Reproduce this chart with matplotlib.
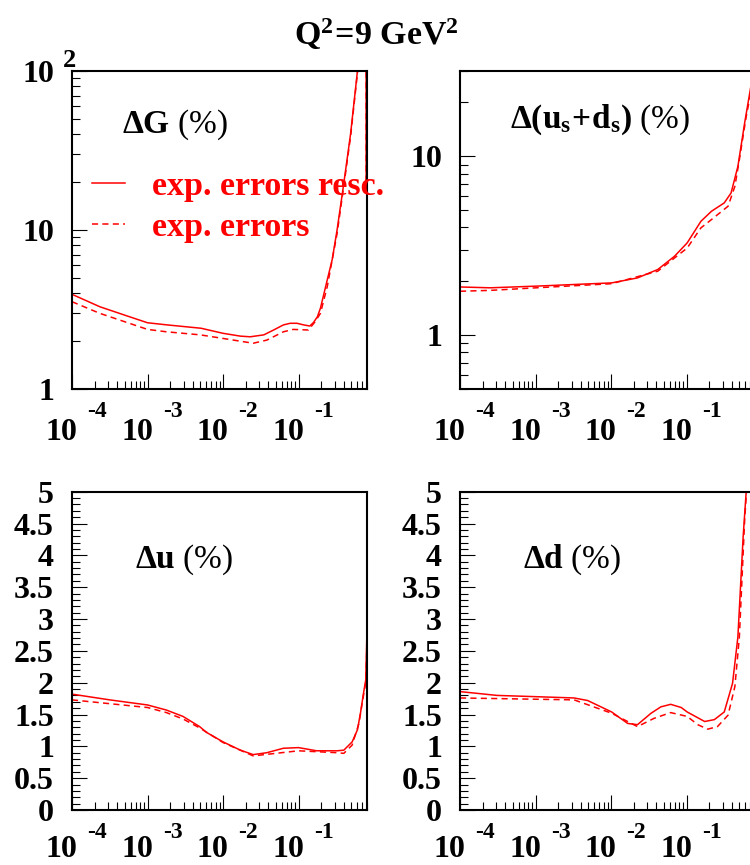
import numpy as np
import matplotlib
matplotlib.use('Agg')
import matplotlib.pyplot as plt
import matplotlib.transforms as mtransforms
from matplotlib.ticker import LogLocator, MultipleLocator, NullFormatter, FixedLocator

plt.rcParams['font.family'] = ['Liberation Serif', 'DejaVu Serif']
plt.rcParams['mathtext.fontset'] = 'custom'
plt.rcParams['mathtext.rm'] = 'Liberation Serif'
plt.rcParams['mathtext.bf'] = 'Liberation Serif:bold'
plt.rcParams['mathtext.it'] = 'Liberation Serif:italic'

# ---------------- data ----------------
title = r'$\mathbf{Q^{2}\!=\!9\ GeV^{2}}$'

# Delta G
g_x_resc = [1.0e-4, 2.34e-4, 5.37e-4, 1.0e-3, 1.82e-3, 5.13e-3, 1.0e-2, 1.70e-2, 2.29e-2,
            3.47e-2, 4.68e-2, 6.31e-2, 7.76e-2, 9.55e-2, 0.117, 0.141, 0.158, 0.178, 0.195,
            0.240, 0.279, 0.324, 0.398, 0.490, 0.603, 0.70, 0.786, 0.787]
g_v_resc = [3.94, 3.29, 2.88, 2.61, 2.53, 2.41, 2.24, 2.15, 2.13,
            2.19, 2.35, 2.53, 2.59, 2.59, 2.53, 2.49, 2.62, 2.85, 3.22,
            4.85, 6.5, 10.0, 19.7, 40.5, 100.0, 250.0, 600.0, 20.0]
g_x_exp = [1.0e-4, 2.34e-4, 1.0e-3, 1.78e-3, 5.01e-3, 1.0e-2, 2.51e-2, 3.80e-2, 6.31e-2,
           8.51e-2, 0.135, 0.166, 0.195, 0.240, 0.324, 0.398, 0.490, 0.603, 0.70, 0.786, 0.787]
g_v_exp = [3.54, 2.99, 2.37, 2.29, 2.19, 2.08, 1.94, 2.03, 2.29,
           2.37, 2.35, 2.65, 2.99, 4.40, 9.5, 19.0, 39.0, 97.0, 250.0, 600.0, 20.0]

# Delta(us+ds)
s_x_resc = [1.0e-4, 2.51e-4, 1.02e-3, 3.24e-3, 1.02e-2, 2.24e-2, 4.17e-2, 6.92e-2, 0.102,
            0.155, 0.214, 0.316, 0.389, 0.479, 0.589, 0.724, 0.80]
s_v_resc = [1.86, 1.84, 1.88, 1.92, 1.96, 2.09, 2.33, 2.76, 3.28,
            4.33, 4.93, 5.49, 6.24, 8.79, 15.4, 25.7, 33.0]
s_x_exp = [1.0e-4, 2.51e-4, 1.02e-3, 1.02e-2, 4.17e-2, 6.92e-2, 0.102, 0.155, 0.214,
           0.355, 0.437, 0.501, 0.617, 0.724, 0.80]
s_v_exp = [1.76, 1.78, 1.84, 1.94, 2.28, 2.70, 3.07, 3.98, 4.43,
           5.26, 6.80, 9.58, 16.7, 23.6, 30.0]

# Delta u
u_x_resc = [1.0e-4, 3.16e-4, 1.0e-3, 1.78e-3, 2.95e-3, 4.90e-3, 6.03e-3, 1.0e-2, 1.70e-2,
            2.51e-2, 3.80e-2, 6.31e-2, 0.1, 0.174, 0.324, 0.398, 0.513, 0.603, 0.661,
            0.724, 0.776, 0.813]
u_v_resc = [1.82, 1.73, 1.65, 1.57, 1.47, 1.31, 1.22, 1.07, 0.94,
            0.87, 0.90, 0.97, 0.98, 0.93, 0.93, 0.94, 1.07, 1.26, 1.52,
            1.83, 2.04, 2.98]
u_x_exp = [1.0e-4, 1.0e-3, 1.78e-3, 2.95e-3, 4.90e-3, 1.0e-2, 2.51e-2, 0.1, 0.324,
           0.398, 0.513, 0.631, 0.697, 0.776, 0.813]
u_v_exp = [1.73, 1.61, 1.53, 1.43, 1.29, 1.06, 0.85, 0.93, 0.90,
           0.89, 1.02, 1.36, 1.68, 2.0, 2.7]

# Delta d
d_x_resc = [1.0e-4, 3.09e-4, 1.02e-3, 3.24e-3, 4.90e-3, 1.02e-2, 1.66e-2, 2.24e-2, 3.39e-2,
            4.57e-2, 6.17e-2, 8.51e-2, 0.102, 0.174, 0.234, 0.316, 0.407, 0.479, 0.562,
            0.617, 0.70]
d_v_resc = [1.86, 1.80, 1.78, 1.76, 1.72, 1.54, 1.36, 1.34, 1.52,
            1.62, 1.66, 1.61, 1.54, 1.39, 1.42, 1.54, 1.99, 2.72, 4.29,
            5.0, 8.0]
d_x_exp = [1.0e-4, 3.24e-3, 1.02e-2, 2.24e-2, 3.72e-2, 6.17e-2, 0.102, 0.141, 0.191,
           0.257, 0.355, 0.437, 0.501, 0.589, 0.646, 0.70]
d_v_exp = [1.76, 1.73, 1.52, 1.31, 1.44, 1.53, 1.47, 1.34, 1.27,
           1.31, 1.49, 1.94, 2.72, 4.56, 5.3, 8.0]

legend_labels = ['exp. errors resc.', 'exp. errors']
xtick_values = [1e-4, 1e-3, 1e-2, 1e-1]
xtick_exps = ['-4', '-3', '-2', '-1']
lin_yticks = [0, 0.5, 1, 1.5, 2, 2.5, 3, 3.5, 4, 4.5, 5]
lin_yticklabels = ['0', '0.5', '1', '1.5', '2', '2.5', '3', '3.5', '4', '4.5', '5']

# ---------------- layout ----------------
W, H = 750, 865
fig = plt.figure(figsize=(W / 100, H / 100), dpi=100)


def ax_at(l, t, r, b):
    return fig.add_axes([l / W, 1 - b / H, (r - l) / W, (b - t) / H])


RED = '#ff0000'
LW = 1.1
DASH = (0, (4, 2.8))
TICKFS = 23


def px(dx, dy):
    return mtransforms.ScaledTranslation(dx / 100, dy / 100, fig.dpi_scale_trans)


def style(ax, base_dy):
    ax.set_xscale('log')
    ax.set_xlim(1e-4, 0.807)
    for s in ax.spines.values():
        s.set_linewidth(1.5)
        s.set_color('black')
    ax.tick_params(which='both', direction='in', top=False, right=False,
                   color='black')
    ax.tick_params(which='major', length=10.5, width=0.8)
    ax.tick_params(which='minor', length=5.5, width=0.8)
    ax.xaxis.set_major_locator(FixedLocator(xtick_values))
    ax.xaxis.set_minor_locator(LogLocator(base=10, subs=np.arange(2, 10), numticks=20))
    ax.xaxis.set_major_formatter(NullFormatter())
    ax.xaxis.set_minor_formatter(NullFormatter())
    ax.tick_params(axis='y', which='major', pad=13, labelsize=TICKFS)
    # ROOT-like x labels "10" with exponent
    for xv, ex in zip(xtick_values, xtick_exps):
        ax.text(xv, 0, '10', transform=ax.get_xaxis_transform() + px(5.5, base_dy),
                ha='right', va='baseline', fontsize=TICKFS, fontweight='bold', clip_on=False)
        ax.text(xv, 0, ex, transform=ax.get_xaxis_transform() + px(15.5, -28),
                ha='left', va='baseline', fontsize=17, fontweight='bold', clip_on=False)


def set_bold_yticklabels(ax, ticks, labels):
    ax.set_yticks(ticks)
    ax.set_yticklabels(labels, fontsize=TICKFS, fontweight='bold')


# Top-left: Delta G
ax1 = ax_at(72, 71, 367, 389)
ax1.set_yscale('log')
ax1.set_ylim(1, 100)
l1, = ax1.plot(g_x_resc, g_v_resc, color=RED, lw=LW)
l2, = ax1.plot(g_x_exp, g_v_exp, color=RED, lw=LW, ls=DASH)
style(ax1, -51)
ax1.yaxis.set_minor_locator(LogLocator(base=10, subs=np.arange(2, 10), numticks=20))
ax1.yaxis.set_minor_formatter(NullFormatter())
set_bold_yticklabels(ax1, [1, 10, 100], ['1', '10', '10'])
ax1.text(0, 1, '2', transform=ax1.transAxes + px(-9, 4), ha='left', va='baseline',
         fontsize=19, fontweight='bold', clip_on=False)
ax1.text(0.17, 0.805, r'$\mathbf{\Delta G}$ (%)', transform=ax1.transAxes,
         fontsize=24, ha='left', va='baseline')
leg = ax1.legend([l1, l2], legend_labels, loc='center left',
                 bbox_to_anchor=((92 - 72) / 295, (389 - 207) / 318),
                 frameon=False, borderpad=0, borderaxespad=0,
                 handlelength=0.97, handletextpad=0.8, labelspacing=0.3,
                 prop={'size': 24.5, 'weight': 'bold', 'family': 'Liberation Serif'},
                 labelcolor=RED)

# Top-right: Delta(us+ds)
ax2 = ax_at(460, 71, 755, 389)
ax2.set_yscale('log')
ax2.set_ylim(0.5, 30)
ax2.plot(s_x_resc, s_v_resc, color=RED, lw=LW)
ax2.plot(s_x_exp, s_v_exp, color=RED, lw=LW, ls=DASH)
style(ax2, -51)
ax2.yaxis.set_minor_locator(LogLocator(base=10, subs=np.arange(2, 10), numticks=20))
ax2.yaxis.set_minor_formatter(NullFormatter())
set_bold_yticklabels(ax2, [1, 10], ['1', '10'])
ax2.text(0.17, 0.82, r'$\mathbf{\Delta(u_{s}\!+\!d_{s})}$ (%)', transform=ax2.transAxes,
         fontsize=24, ha='left', va='baseline')

# Bottom-left: Delta u
ax3 = ax_at(72, 491.7, 367, 810)
ax3.set_ylim(0, 5)
ax3.plot(u_x_resc, u_v_resc, color=RED, lw=LW)
ax3.plot(u_x_exp, u_v_exp, color=RED, lw=LW, ls=DASH)
style(ax3, -47)
ax3.yaxis.set_minor_locator(MultipleLocator(0.1))
set_bold_yticklabels(ax3, lin_yticks, lin_yticklabels)
ax3.text(0.214, 0.76, r'$\mathbf{\Delta u}$ (%)', transform=ax3.transAxes,
         fontsize=24, ha='left', va='baseline')

# Bottom-right: Delta d
ax4 = ax_at(460, 491.7, 755, 810)
ax4.set_ylim(0, 5)
ax4.plot(d_x_resc, d_v_resc, color=RED, lw=LW)
ax4.plot(d_x_exp, d_v_exp, color=RED, lw=LW, ls=DASH)
style(ax4, -47)
ax4.yaxis.set_minor_locator(MultipleLocator(0.1))
set_bold_yticklabels(ax4, lin_yticks, lin_yticklabels)
ax4.text(0.214, 0.76, r'$\mathbf{\Delta d}$ (%)', transform=ax4.transAxes,
         fontsize=24, ha='left', va='baseline')

fig.text(376 / W, 1 - 45 / H, title, ha='center', va='baseline', fontsize=24.5)

fig.savefig('out.png', dpi=100)
